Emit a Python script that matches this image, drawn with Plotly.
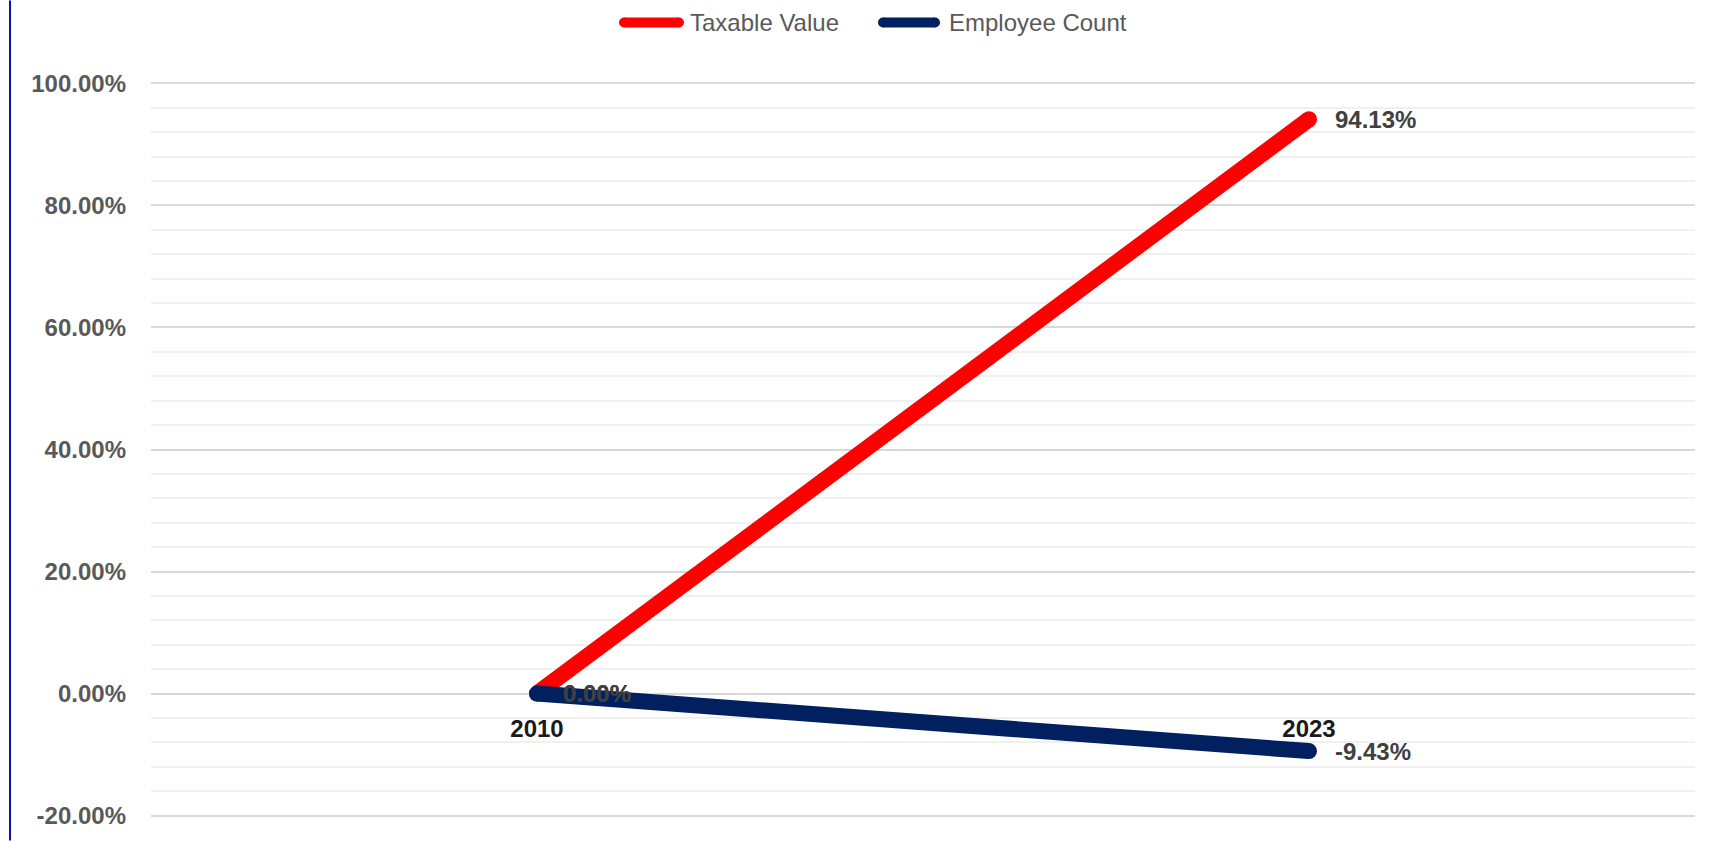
import plotly.graph_objects as go

categories = ["2010", "2023"]
taxable_value = [0.00, 94.13]
employee_count = [0.00, -9.43]
series_names = ["Taxable Value", "Employee Count"]
series_colors = ["#ff0000", "#002060"]
y_ticks = [-20, 0, 20, 40, 60, 80, 100]
y_tick_labels = ["-20.00%", "0.00%", "20.00%", "40.00%", "60.00%", "80.00%", "100.00%"]

W, H = 1710, 841
Y_MIN, Y_MAX = -20, 100
PAD = 0.4  # small range padding so edge gridlines are drawn
TOP_PX, BOT_PX = 83, 816  # pixel rows of Y_MAX and Y_MIN
ppu = (BOT_PX - TOP_PX) / (Y_MAX - Y_MIN)
ML, MR = 151, 15
MT = TOP_PX - PAD * ppu
MB = H - BOT_PX - PAD * ppu
PW, PH = W - ML - MR, H - MT - MB
FONT = "Liberation Sans, Arial, sans-serif"
FS = 24

def px_x(px):
    return (px - ML) / PW

def px_y(py):
    return (H - MB - py) / PH

fig = go.Figure()
for name, vals, col in zip(series_names, [taxable_value, employee_count], series_colors):
    fig.add_trace(go.Scatter(
        x=categories, y=vals, name=name, mode="lines+markers",
        line=dict(color=col, width=16),
        marker=dict(color=col, size=16, line=dict(width=0)),
        showlegend=False,
    ))

annotations = []
# data labels
for vals in [taxable_value, employee_count]:
    for i, v in enumerate(vals):
        annotations.append(dict(
            x=i, y=v, xref="x", yref="y", text=f"{v:.2f}%", showarrow=False,
            xanchor="left", yanchor="middle", xshift=24,
            font=dict(family=FONT, size=FS, color="#404040", weight="bold"),
        ))

shapes = []
# custom legend
leg_items = [(619, 684, 688), (878, 940, 947)]
leg_y = 22
for (x0, x1, tx), name, col in zip(leg_items, series_names, series_colors):
    shapes.append(dict(type="line", xref="paper", yref="paper",
                       x0=px_x(x0 + 5), x1=px_x(x1 - 5), y0=px_y(leg_y), y1=px_y(leg_y),
                       line=dict(color=col, width=10)))
    for cx in (x0 + 5, x1 - 5):
        shapes.append(dict(type="circle", xref="paper", yref="paper",
                           xsizemode="pixel", ysizemode="pixel",
                           xanchor=px_x(cx), yanchor=px_y(leg_y),
                           x0=-5, x1=5, y0=-5, y1=5,
                           fillcolor=col, line=dict(width=0)))
    annotations.append(dict(x=px_x(tx), y=px_y(leg_y), xref="paper", yref="paper",
                            text=name, showarrow=False, xanchor="left", yanchor="middle",
                            font=dict(family=FONT, size=FS, color="#595959")))

# left border line of chart area
shapes.append(dict(type="line", xref="paper", yref="paper",
                   x0=px_x(10), x1=px_x(10), y0=px_y(0), y1=px_y(H),
                   line=dict(color="#1010b0", width=2)))

y_range = [Y_MIN - PAD, Y_MAX + PAD]
fig.update_layout(
    width=W, height=H,
    margin=dict(l=ML, r=MR, t=MT, b=MB),
    paper_bgcolor="white", plot_bgcolor="white",
    showlegend=False,
    shapes=shapes, annotations=annotations,
    xaxis=dict(type="category", categoryorder="array", categoryarray=categories,
               range=[-0.5, 1.5], showgrid=False, showline=False, zeroline=False,
               ticks="", anchor="free",
               position=(0 - y_range[0]) / (y_range[1] - y_range[0]), side="bottom",
               ticklabelstandoff=18,
               tickfont=dict(family=FONT, size=FS, color="#1a1a1a", weight="bold")),
    yaxis=dict(range=y_range, tickmode="array", tickvals=y_ticks, ticktext=y_tick_labels,
               showgrid=True, gridcolor="#d9d9d9", gridwidth=2, zeroline=False,
               showline=False, ticks="", ticklabelstandoff=24,
               tickfont=dict(family=FONT, size=FS, color="#595959", weight="bold"),
               minor=dict(dtick=4, tick0=0, showgrid=True, gridcolor="#f0f0f0", gridwidth=2)),
)

fig.write_html("out.html")
